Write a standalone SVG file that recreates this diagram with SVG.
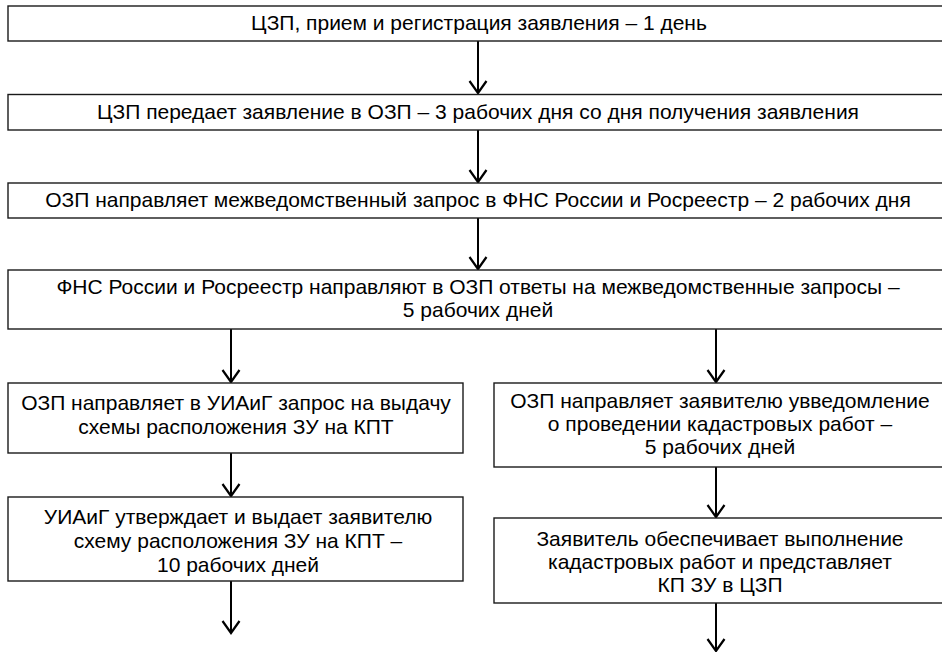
<svg xmlns="http://www.w3.org/2000/svg" width="942" height="652" viewBox="0 0 942 652">
<style>
.box{fill:#fff;stroke:#1a1a1a;stroke-width:1.4}
.t{font-family:"Liberation Sans",Arial,sans-serif;font-size:21px;fill:#000;text-anchor:middle}
.c{stroke:#000;stroke-width:2;fill:none}
</style>
<defs>
<marker id="ah" markerUnits="userSpaceOnUse" orient="auto" refX="0" refY="0" markerWidth="20" markerHeight="20" overflow="visible">
<path d="M-12,-8.5 L0,0 L-12,8.5" fill="none" stroke="#000" stroke-width="2.2"/>
</marker>
</defs>
<rect width="942" height="652" fill="#fff"/>
<g id="connectors">
<path class="c" d="M478,41 V93" marker-end="url(#ah)"/>
<path class="c" d="M478,130 V182" marker-end="url(#ah)"/>
<path class="c" d="M478,218 V269" marker-end="url(#ah)"/>
<path class="c" d="M231,329 V382" marker-end="url(#ah)"/>
<path class="c" d="M716,329 V382" marker-end="url(#ah)"/>
<path class="c" d="M231,453 V496" marker-end="url(#ah)"/>
<path class="c" d="M716,467 V517" marker-end="url(#ah)"/>
<path class="c" d="M231,581 V633" marker-end="url(#ah)"/>
<path class="c" d="M716,603 V651" marker-end="url(#ah)"/>
</g>
<g id="n1">
<rect class="box" x="8" y="6" width="945" height="35"/>
<text class="t" x="479" y="30">ЦЗП, прием и регистрация заявления – 1 день</text>
</g>
<g id="n2">
<rect class="box" x="8" y="94.5" width="945" height="35.5"/>
<text class="t" x="478" y="119">ЦЗП передает заявление в ОЗП – 3 рабочих дня со дня получения заявления</text>
</g>
<g id="n3">
<rect class="box" x="8" y="183" width="945" height="35"/>
<text class="t" x="478" y="207">ОЗП направляет межведомственный запрос в ФНС России и Росреестр – 2 рабочих дня</text>
</g>
<g id="n4">
<rect class="box" x="8" y="270" width="945" height="59"/>
<text class="t" x="478" y="294">ФНС России и Росреестр направляют в ОЗП ответы на межведомственные запросы –</text>
<text class="t" x="478" y="317">5 рабочих дней</text>
</g>
<g id="n5">
<rect class="box" x="8" y="383" width="455" height="70"/>
<text class="t" x="236" y="410">ОЗП направляет в УИАиГ запрос на выдачу</text>
<text class="t" x="236" y="434">схемы расположения ЗУ на КПТ</text>
</g>
<g id="n6">
<rect class="box" x="494" y="383" width="460" height="84"/>
<text class="t" x="720" y="408">ОЗП направляет заявителю увведомление</text>
<text class="t" x="720" y="431">о проведении кадастровых работ –</text>
<text class="t" x="720" y="454">5 рабочих дней</text>
</g>
<g id="n7">
<rect class="box" x="8" y="497" width="455" height="84"/>
<text class="t" x="238" y="524">УИАиГ утверждает и выдает заявителю</text>
<text class="t" x="238" y="548">схему расположения ЗУ на КПТ –</text>
<text class="t" x="238" y="572">10 рабочих дней</text>
</g>
<g id="n8">
<rect class="box" x="494" y="518" width="460" height="85"/>
<text class="t" x="720" y="546">Заявитель обеспечивает выполнение</text>
<text class="t" x="720" y="569">кадастровых работ и представляет</text>
<text class="t" x="720" y="592">КП ЗУ в ЦЗП</text>
</g>
</svg>
